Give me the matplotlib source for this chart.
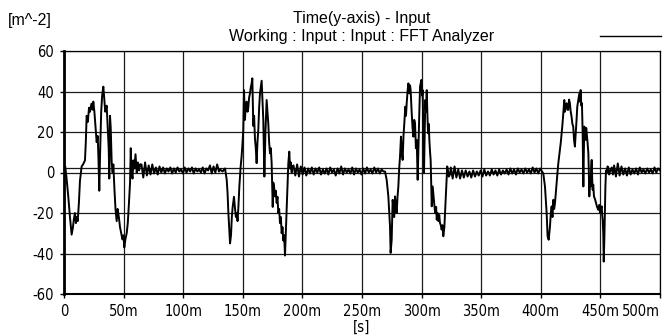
import numpy as np
import matplotlib
matplotlib.use("Agg")
import matplotlib.pyplot as plt
from matplotlib import font_manager as fm
from matplotlib.font_manager import FontProperties

# ---------------- data (time in ms, value in m^-2) ----------------
burst1 = [(0, 0.5), (1, 3), (2, -2), (3.6, -12), (5, -22), (6.4, -30.7), (7.5, -27), (8.3, -23),
          (9.2, -20), (10, -25), (10.6, -22), (11.5, -24), (12.5, -15), (13.4, -4), (14.2, 0), (14.8, 3),
          (16, 4), (17.6, 6), (18.3, 15), (19, 28), (20, 25), (21, 32), (21.8, 30), (23, 34), (24, 31),
          (24.6, 35), (25.5, 30), (26.5, 22), (27.4, 15), (28.3, 18), (29.0, 5), (29.6, -9), (30.3, 10),
          (31.2, 30), (32, 38), (33, 42.4), (33.8, 36), (34.6, 30), (35.8, 33), (36.8, 20), (37.5, 12),
          (38.0, -3), (38.6, 28), (39.2, 22), (40, 5), (40.8, 0), (41.4, 4), (42.3, -8), (43.2, -18),
          (44.2, -24), (45, -18), (46, -22), (47, -27), (48, -30), (49, -33), (49.8, -31), (50.6, -37),
          (51.5, -33), (52.6, -30), (53.5, -25), (54.5, -15), (55.4, -5), (56.0, 12), (56.6, 0),
          (57.5, -3), (58.2, 6), (59, 2), (60, 9), (61, 0), (62, 5), (63, 1), (63.8, 4)]
burst2 = [(131, 1.5), (133, 0.5), (135.1, 2), (136.5, -3.6), (137.2, -10), (137.9, -20), (138.6, -28),
          (139.3, -35), (140.1, -31), (140.8, -22), (141.5, -17), (142.6, -12), (143.5, -18), (144.2, -22),
          (144.9, -20), (145.6, -24), (146.3, -17), (147.1, -7), (148.2, 3), (149.0, 8), (149.7, 14),
          (150.4, 21), (151.0, 40.7), (151.8, 26), (152.5, 33), (153.2, 35), (154.0, 30), (154.6, 32),
          (155.3, 37), (156.0, 39), (156.7, 42), (157.4, 44), (158.0, 46.5), (158.8, 23), (159.5, 28),
          (160.2, 16.7), (160.9, 12), (161.6, 4.6), (162.3, 15), (163.0, 21), (163.7, 32), (164.4, 39),
          (165.1, 42), (165.8, 45.3), (166.5, 36), (167.2, 26), (168.1, -2), (169.0, 20), (170.0, 35.8),
          (170.7, 30), (171.4, 24), (172.1, 15), (172.8, 9.5), (173.5, 12), (174.2, 4.6), (175.1, -17),
          (175.6, -5), (176.2, -7), (177.0, -11.8), (177.7, -9), (178.4, -15), (179.1, -12), (179.8, -20),
          (180.5, -18), (181.2, -25), (181.9, -22), (182.6, -30), (183.3, -27), (184.0, -33.6),
          (184.7, -31), (185.4, -41), (186.2, -27), (186.8, -18), (187.4, -8.5), (188.2, 4.6),
          (189.0, 10.3), (189.6, 2), (190.2, 5), (191.0, 0), (191.8, 3)]
burst3 = [(269.3, 0.5), (270.7, -3.6), (272.1, -11.8), (273.5, -26.6), (274.0, -39.7), (274.9, -33.2),
          (275.7, -13.5), (276.3, -16.7), (277.0, -22), (277.7, -11.8), (278.4, -17), (279.1, -20),
          (279.8, -12), (280.5, -6.9), (281.2, 2), (281.9, 7.9), (282.7, 17.7), (283.4, 10), (284.1, 6.2),
          (284.8, 18), (285.5, 24.3), (286.3, 32.5), (286.9, 28), (287.5, 34.2), (288.2, 40), (288.9, 44),
          (289.7, 39.1), (290.3, 43), (290.8, 40.7), (291.7, 29.3), (292.4, 22), (293.1, 17.7), (293.8, 26),
          (294.5, 24.3), (295.2, 12), (295.9, 16.1), (296.7, -3.6), (297.5, 16.1), (298.1, 30),
          (298.7, 42.4), (299.8, 45.7), (300.4, 38), (300.9, 40.7), (301.5, 20), (302.0, -0.3), (302.6, 20),
          (303.1, 35.8), (303.7, 30), (304.3, 40.7), (304.9, 28), (305.4, 19.4), (306.0, 24), (306.5, 16.1),
          (307.1, 10), (307.6, 6.2), (308.0, -5), (308.5, -16.7), (309.3, -6.9), (309.8, -10),
          (310.4, -13.5), (311.0, -18), (311.6, -20), (312.2, -17), (312.7, -23.3), (313.4, -20),
          (314.1, -24), (314.8, -21), (315.4, -24.9), (316.1, -26), (316.8, -28.2), (317.5, -26),
          (318.2, -31.5), (319.1, -27), (319.9, -16.7), (320.5, -9), (321.0, -3.6), (321.5, 3),
          (322.1, 0.9), (322.8, -2), (323.8, -1)]
burst4 = [(402.1, -0.5), (403.5, -6.9), (404.9, -20), (405.7, -31.5), (406.6, -33.2), (407.7, -26.6),
          (408.4, -20), (409.1, -16.7), (409.8, -22), (410.5, -13.5), (411.2, -18), (411.9, -15.1),
          (412.6, -10), (413.3, -5.2), (414.0, 0), (414.7, 4.6), (415.4, 8), (416.1, 11.2), (416.8, 15),
          (417.5, 19.4), (418.2, 24), (418.9, 29.3), (419.7, 35.8), (420.2, 30), (420.8, 33), (421.6, 34.2),
          (422.3, 31), (423.0, 30.9), (423.7, 36), (424.4, 34.2), (425.1, 30), (425.8, 27.6), (426.5, 24),
          (427.2, 22.7), (427.9, 16), (428.6, 12.8), (429.5, 21), (430.0, 26), (430.6, 32.5), (431.5, 36),
          (432.3, 39), (432.9, 35), (433.4, 40.7), (434.0, 33), (434.5, 34.2), (435.1, 20), (435.7, -6.9),
          (436.1, 10), (436.5, 22.7), (437.1, 18), (437.6, 16.1), (438.1, 22), (438.5, 19.4), (439.2, 15),
          (439.9, 9.5), (440.3, 0), (440.7, -11.8), (441.3, -4), (441.8, -6.9), (442.2, 2), (442.7, 6.2),
          (443.1, -3), (443.5, -8.5), (444.0, -6), (444.6, -11.8), (445.4, -13), (446.3, -15.1),
          (447.2, -17), (448.2, -18.4), (449.0, -16), (449.7, -20), (450.4, -18), (451.1, -16.7),
          (451.5, -21), (451.9, -23.3), (452.4, -30), (452.8, -44), (453.3, -33.2), (453.8, -18),
          (454.2, -6.9), (454.7, 1), (455.3, -0.3), (456.0, 3), (456.7, 2.3), (457.4, -1), (458.1, 0.5),
          (459.5, 2.5), (460.5, -1)]

# quiet stretches between bursts: (start ms, end ms, sampled values)
flat1 = (65, 130, [4.0, -2.5, 5.0, -1.5, 3.5, -1.0, 4.0, -0.5, 2.5, -1.0, 3.0, 0.0, 2.5, -0.5, 2.0,
                   0.5, 2.5, -0.5, 2.0, 0.0, 2.5, 0.5, 1.5, -0.5, 2.5, 0.0, 2.0, 0.5, 2.5, -0.5, 2.0,
                   0.5, 1.5, 0.0, 2.5, -0.5, 2.0, 1.0, 3.5, -0.5, 3.0, 0.0, 4.0, 0.5])
flat2 = (192.5, 268, [3.5, -1.5, 4.0, -2.0, 3.0, -1.0, 2.5, -1.5, 2.0, -0.5, 2.5, -1.0, 2.0, 0.0, 2.5,
                      -1.0, 1.5, -0.5, 2.0, -1.0, 2.5, 0.0, 1.5, -1.5, 2.0, -0.5, 3.0, -1.0, 2.0, 0.0,
                      1.5, -0.5, 2.5, -1.0, 2.0, 0.0, 1.5, -1.0, 2.0, -0.5, 2.5, 0.0, 1.5, -0.5, 2.5,
                      0.0, 2.0, -0.5, 1.5, 0.5])
flat3 = (324.5, 401, [2.5, -3.0, 3.0, -2.5, 1.5, -3.0, 1.0, -2.5, 1.0, -2.0, 0.5, -2.5, 1.0, -2.0, 0.5,
                      -1.5, 1.0, -2.0, 1.5, -1.5, 0.5, -1.5, 1.5, -1.0, 1.0, -1.5, 1.5, -1.0, 1.0, -0.5,
                      1.5, -1.0, 2.0, -0.5, 1.5, -1.0, 2.0, 0.0, 1.5, -0.5, 2.0, 0.0, 1.5, -0.5, 2.5,
                      0.0, 2.0, -0.5, 2.0, 0.5])
flat4 = (461.5, 500, [3.5, -2.0, 4.5, -1.5, 3.0, -1.0, 2.0, -1.5, 2.5, -1.0, 1.5, -0.5, 2.0, -1.0, 2.5,
                      0.0, 1.5, -0.5, 2.0, 0.0, 1.5, -0.5, 2.5, 0.0, 2.0, 1.0])

x_ticks = [0, 0.05, 0.10, 0.15, 0.20, 0.25, 0.30, 0.35, 0.40, 0.45, 0.50]
x_ticklabels = ['0', '50m', '100m', '150m', '200m', '250m', '300m', '350m', '400m', '450m', '500m']
y_ticks = [-60, -40, -20, 0, 20, 40, 60]
ref_level = 2.2

# ---------------- fonts ----------------
entries = fm.fontManager.ttflist
def find_condensed():
    for f in entries:
        if f.name == 'Liberation Sans Narrow':
            return FontProperties(fname=f.fname)
    for f in entries:
        if f.name == 'DejaVu Sans' and 'Condensed' in f.fname and 'Bold' not in f.fname \
                and 'Oblique' not in f.fname:
            return FontProperties(fname=f.fname)
    for f in entries:
        if 'Condensed' in f.name or 'Narrow' in f.name:
            return FontProperties(fname=f.fname)
    return FontProperties(family=['Roboto', 'DejaVu Sans'])
cond = find_condensed()
regular = ['Liberation Sans', 'DejaVu Sans']

# ---------------- assemble ----------------
def flat_pts(seg):
    s, e, vals = seg
    return list(zip(np.linspace(s, e, len(vals)), vals))

pts = burst1 + flat_pts(flat1) + burst2 + flat_pts(flat2) + burst3 + flat_pts(flat3) + burst4 + flat_pts(flat4)
t = np.array([p[0] for p in pts]) / 1000.0
v = np.array([p[1] for p in pts])

W, H = 665, 336
fig = plt.figure(figsize=(W / 100, H / 100), dpi=100)
ax = fig.add_axes([64 / W, 1 - 294 / H, 596 / W, 243 / H])

ax.set_xlim(0, 0.5)
ax.set_ylim(-60, 60)
ax.set_xticks(x_ticks)
ax.set_xticklabels(x_ticklabels)
ax.set_yticks(y_ticks)
ax.set_yticklabels([str(y) for y in y_ticks])
for lab in ax.get_xticklabels() + ax.get_yticklabels():
    lab.set_fontproperties(cond)
    lab.set_fontsize(10.5)
ax.get_xticklabels()[-1].set_horizontalalignment('right')
ax.tick_params(axis='x', direction='out', length=3, width=1, color='black', pad=4)
ax.tick_params(axis='y', direction='out', length=3, width=1, color='black', pad=4)

ax.grid(True, color='#1a1a1a', linewidth=0.9)
ax.set_axisbelow(True)
ax.axhline(ref_level, color='#1a1a1a', linewidth=0.9, zorder=1)

line, = ax.plot(t, v, color='black', linewidth=1.4, zorder=3)

for side in ['top', 'right']:
    ax.spines[side].set_linewidth(0.9)
ax.spines['left'].set_linewidth(2.0)
ax.spines['bottom'].set_linewidth(1.5)

xl = ax.set_xlabel('[s]', fontproperties=cond)
xl.set_fontsize(10.5)
ax.xaxis.set_label_coords(0.5, -(327.5 - 294) / 243)
xl.set_verticalalignment('center')

fig.text(362 / W, 1 - 19 / H, 'Time(y-axis) - Input', ha='center', va='center',
         family=regular, fontsize=11.5)
fig.text(362 / W, 1 - 37 / H, 'Working : Input : Input : FFT Analyzer', ha='center', va='center',
         family=regular, fontsize=11.5)
fig.text(8 / W, 1 - 21 / H, '[m^-2]', ha='left', va='center', family=regular, fontsize=11.5)

fig.legend(handles=[line], labels=[''], loc='center right', bbox_to_anchor=(661 / W, 1 - 37 / H),
           frameon=False, handlelength=4.4, handletextpad=0, borderpad=0, borderaxespad=0,
           fontsize=10)
fig.legends[0].get_lines()[0].set_linewidth(1.0)

fig.savefig('out.png', dpi=100)
